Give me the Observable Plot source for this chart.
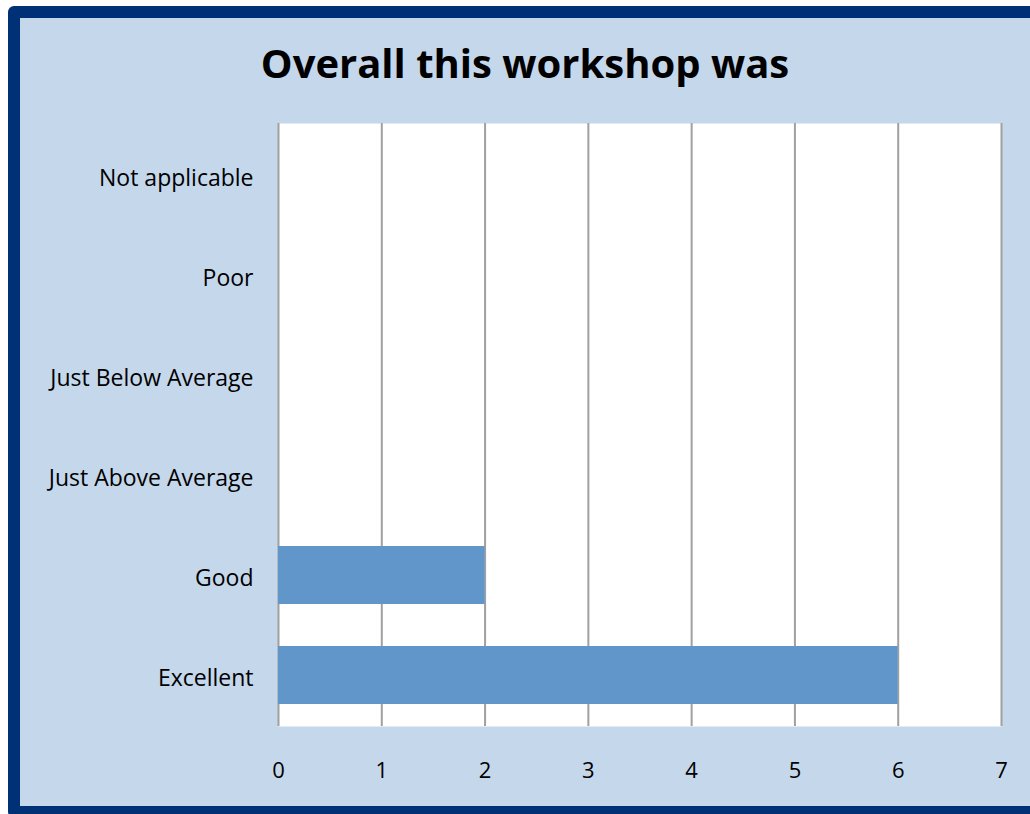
<!DOCTYPE html>
<html>
<head>
<meta charset="utf-8">
<script src="https://cdn.jsdelivr.net/npm/d3@7"></script>
<script src="https://cdn.jsdelivr.net/npm/@observablehq/plot@0.6"></script>
<style>
  html, body { margin: 0; padding: 0; background: #ffffff; overflow: hidden; }
  #frame {
    position: absolute; left: 8px; top: 6px;
    width: 1010px; height: 788px;
    border: 12px solid #003075; border-radius: 6px;
    background: #c5d7eb;
  }
  #title {
    width: 1010px; height: 90px; text-align: center;
    font-family: "Open Sans", sans-serif; font-weight: 700; font-size: 40px;
    line-height: 90px; color: #000; margin: 0; padding: 0;
  }
  #chart svg { display: block; background: transparent; }
</style>
</head>
<body>
<div id="frame">
  <div id="title">Overall this workshop was</div>
  <div id="chart"></div>
</div>
<script>
const categories = ["Not applicable", "Poor", "Just Below Average", "Just Above Average", "Good", "Excellent"];
const counts = [0, 0, 0, 0, 2, 6];
const xTicks = [0, 1, 2, 3, 4, 5, 6, 7];

const data = categories.map((c, i) => ({category: c, count: counts[i]}));

const chart = Plot.plot({
  width: 1010,
  height: 698,
  marginLeft: 258,
  marginRight: 29,
  marginTop: 15,
  marginBottom: 80,
  style: {fontFamily: "Open Sans, sans-serif", fontSize: "23px", color: "#000", background: "transparent"},
  x: {domain: [0, 7], ticks: xTicks, tickFormat: "d", tickSize: 0, tickPadding: 36, label: null},
  y: {domain: categories, paddingInner: 0.42, paddingOuter: 0.21, tickSize: 0, tickPadding: 25, label: null},
  marks: [
    Plot.frame({fill: "white", stroke: null}),
    Plot.ruleX(xTicks, {stroke: "#a0a0a0", strokeWidth: 2, strokeOpacity: 1}),
    Plot.barX(data, {x: "count", y: "category", fill: "#6096c9"}),
    Plot.axisX({ticks: xTicks, tickFormat: "d", tickSize: 0, tickPadding: 36, fontSize: 22, fill: "#000"}),
    Plot.axisY({tickSize: 0, tickPadding: 25, fontSize: 23, fill: "#000", dy: 3})
  ]
});
document.getElementById("chart").appendChild(chart);
</script>
</body>
</html>
